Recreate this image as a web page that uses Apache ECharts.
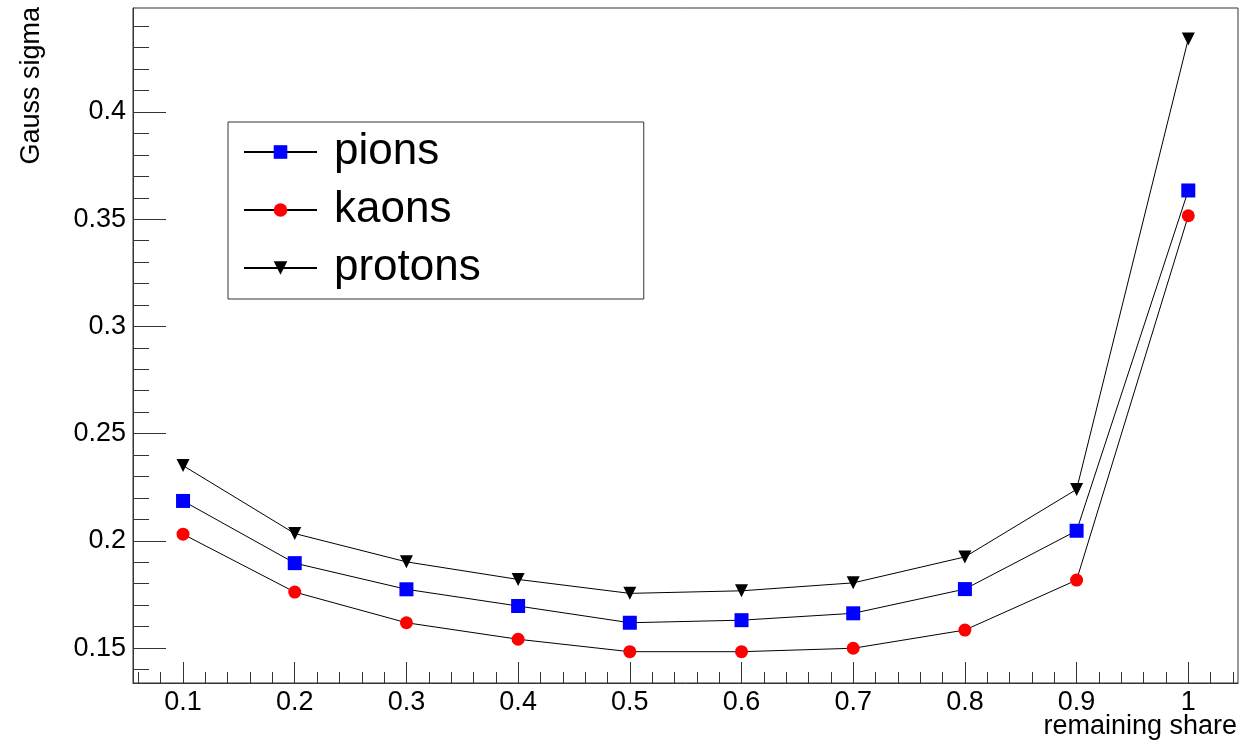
<!DOCTYPE html>
<html>
<head>
<meta charset="utf-8">
<script src="https://cdn.jsdelivr.net/npm/echarts@6/dist/echarts.min.js"></script>
<style>
  html, body { margin: 0; padding: 0; background: #ffffff; }
  #chart { width: 1253px; height: 744px; }
</style>
</head>
<body>
<div id="chart"></div>
<script>
// Remaining share (x) and fitted Gauss sigma for each particle species
const shares  = [0.1, 0.2, 0.3, 0.4, 0.5, 0.6, 0.7, 0.8, 0.9, 1.0];
const pions   = [0.2186, 0.1896, 0.1774, 0.1696, 0.1618, 0.1630, 0.1662, 0.1775, 0.2047, 0.3634];
const kaons   = [0.2031, 0.1761, 0.1618, 0.1541, 0.1483, 0.1483, 0.1499, 0.1584, 0.1817, 0.3516];
const protons = [0.2351, 0.2034, 0.1902, 0.1820, 0.1755, 0.1767, 0.1804, 0.1925, 0.2240, 0.4341];

// Axis ranges and tick values
const xRange = [0.0552, 1.0445];
const yRange = [0.1337, 0.4485];
const xMajorTicks = [0.1, 0.2, 0.3, 0.4, 0.5, 0.6, 0.7, 0.8, 0.9, 1.0];
const yMajorTicks = [0.15, 0.2, 0.25, 0.3, 0.35, 0.4];

function steps(from, to, step) {
  const out = [];
  for (let v = from; v <= to + 1e-9; v += step) out.push(Math.round(v * 1000) / 1000);
  return out;
}
const xMinorTicks = steps(0.06, 1.04, 0.02);
const yMinorTicks = steps(0.14, 0.44, 0.01);

const FONT = '"Liberation Sans", Arial, Helvetica, sans-serif';
const AXIS_COLOR = '#333333';
const fmt = v => String(+(+v).toFixed(2));

const pairs = ys => shares.map((x, i) => [x, ys[i]]);

const chart = echarts.init(document.getElementById('chart'), null, { renderer: 'canvas' });

const majorX = {
  type: 'value', min: xRange[0], max: xRange[1], position: 'bottom',
  axisLine: { show: true, lineStyle: { color: AXIS_COLOR, width: 1 } },
  axisTick: { show: true, inside: true, length: 21, customValues: xMajorTicks,
              lineStyle: { color: AXIS_COLOR, width: 1 } },
  axisLabel: { show: true, customValues: xMajorTicks, formatter: fmt, margin: 6,
               color: '#000', fontSize: 27, fontFamily: FONT },
  splitLine: { show: false }
};
const minorX = {
  type: 'value', min: xRange[0], max: xRange[1], position: 'bottom',
  axisLine: { show: false },
  axisTick: { show: true, inside: true, length: 11, customValues: xMinorTicks,
              lineStyle: { color: AXIS_COLOR, width: 1 } },
  axisLabel: { show: false },
  splitLine: { show: false }
};
const majorY = {
  type: 'value', min: yRange[0], max: yRange[1], position: 'left',
  axisLine: { show: true, lineStyle: { color: AXIS_COLOR, width: 1 } },
  axisTick: { show: true, inside: true, length: 33, customValues: yMajorTicks,
              lineStyle: { color: AXIS_COLOR, width: 1 } },
  axisLabel: { show: true, customValues: yMajorTicks, formatter: fmt, margin: 7,
               color: '#000', fontSize: 27, fontFamily: FONT },
  splitLine: { show: false }
};
const minorY = {
  type: 'value', min: yRange[0], max: yRange[1], position: 'left',
  axisLine: { show: false },
  axisTick: { show: true, inside: true, length: 16, customValues: yMinorTicks,
              lineStyle: { color: AXIS_COLOR, width: 1 } },
  axisLabel: { show: false },
  splitLine: { show: false }
};

function series(name, data, symbol, size, color, rotate) {
  return {
    name, type: 'line', data: pairs(data),
    xAxisIndex: 0, yAxisIndex: 0,
    symbol, symbolSize: size, symbolRotate: rotate || 0,
    showAllSymbol: true,
    lineStyle: { color: '#000', width: 1 },
    itemStyle: { color: color, borderWidth: 0 },
    emphasis: { disabled: true },
    animation: false
  };
}

chart.setOption({
  backgroundColor: '#ffffff',
  animation: false,
  grid: {
    left: 133, top: 8, right: 15, bottom: 61,
    show: true, borderColor: AXIS_COLOR, borderWidth: 1, backgroundColor: 'transparent'
  },
  xAxis: [majorX, minorX],
  yAxis: [majorY, minorY],
  legend: {
    orient: 'vertical', left: 228, top: 122,
    padding: [5, 163, 6, 15],
    itemWidth: 73, itemHeight: 17, itemGap: 8,
    borderColor: '#333', borderWidth: 1, backgroundColor: '#fff',
    selectedMode: false,
    textStyle: { fontSize: 44, lineHeight: 50, fontFamily: FONT, color: '#000', padding: [0, 0, 0, 12] },
    data: ['pions', 'kaons', 'protons']
  },
  graphic: [
    {
      type: 'text', x: 32, y: 7, rotation: Math.PI / 2,
      style: { text: 'Gauss sigma', font: '27px ' + FONT, fill: '#000',
               textAlign: 'right', textVerticalAlign: 'middle' }
    },
    {
      type: 'text', x: 1237, y: 727,
      style: { text: 'remaining share', font: '27px ' + FONT, fill: '#000',
               textAlign: 'right', textVerticalAlign: 'middle' }
    }
  ],
  series: [
    series('pions', pions, 'rect', 14, '#0000ff'),
    series('kaons', kaons, 'circle', 13, '#ff0000'),
    series('protons', protons, 'triangle', 13, '#000000', 180)
  ]
});
</script>
</body>
</html>
